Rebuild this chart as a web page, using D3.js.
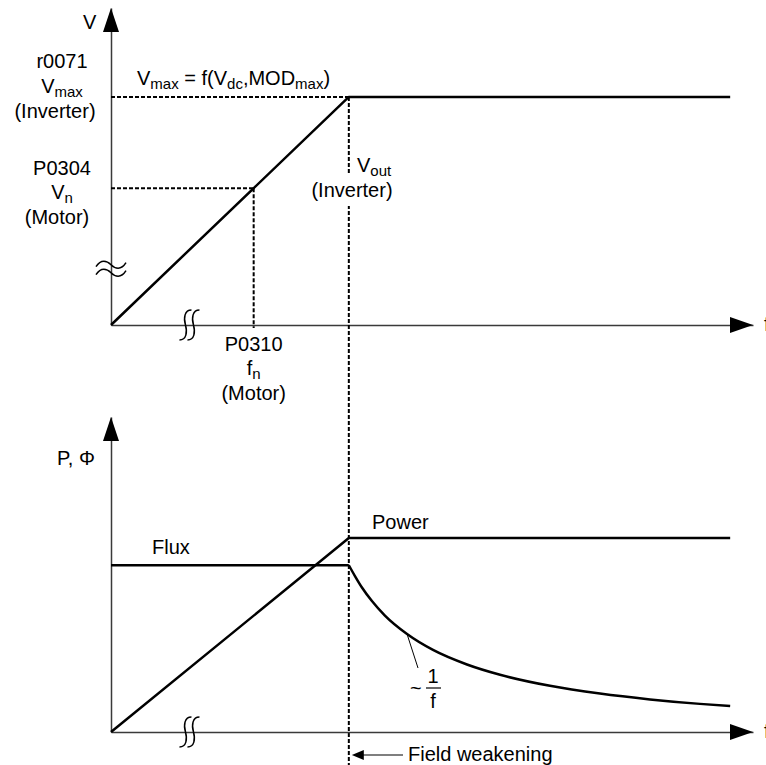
<!DOCTYPE html>
<html>
<head>
<meta charset="utf-8">
<script src="https://cdn.jsdelivr.net/npm/d3@7"></script>
<style>
	body { margin: 0; background: #fff; }
	svg { display: block; font-family: "Liberation Sans", Arial, sans-serif; }
</style>
</head>
<body>
<svg id="chart" width="766" height="765"></svg>
<script>

// frequency axis: nominal motor frequency = 1
const freqDomain = [0, 4.5],
	nominalFreq = 1,
	fieldWeakeningFreq = 1.667,
	breakFreq = 0.55;

// upper panel: V (Vmax = 1)
const voltageDomain = [0, 1.39],
	nominalVoltage = 0.6,
	maxVoltage = 1,
	voltageBreak = 0.26;
const voltageFreqs = [0, 1.667, 4.34];
const voltageValues = [0, 1, 1];

// lower panel: P, flux (rated power = 1)
const powerDomain = [0, 1.624];
const powerFreqs = [0, 1.667, 4.34];
const powerValues = [0, 1, 1];
const fluxFlatFreqs = [0, 1.667];
const fluxFlatValues = [0.86, 0.86];
const fluxWeakFreqs = [1.667, 1.71, 1.759, 1.829, 1.92, 2.075, 2.257, 2.495, 2.727, 3.077, 3.427, 3.778, 4.128, 4.34];
const fluxWeakValues = [0.86, 0.804, 0.745, 0.675, 0.6, 0.505, 0.423, 0.348, 0.295, 0.238, 0.198, 0.168, 0.145, 0.134];

const AXIS_COLOR = '#3a3a3a',
	LINE_WIDTH = 2.5,
	DASH = '4,2';

let svg = d3.select('#chart');

let x = d3.scaleLinear().domain(freqDomain).range([111, 753]),
	yV = d3.scaleLinear().domain(voltageDomain).range([325, 8]),
	yP = d3.scaleLinear().domain(powerDomain).range([732, 417]);

// text with optional subscripts: parts = ['V', {sub: 'max'}, ...]
function label(sel, px, py, parts, anchor) {
	let t = sel.append('text')
		.attr('x', px)
		.attr('y', py)
		.attr('text-anchor', anchor || 'start')
		.attr('font-size', 20)
		.attr('fill', '#000');
	let shifted = false;
	parts.forEach(p => {
		if (typeof p === 'string') {
			t.append('tspan').attr('dy', shifted ? -4 : 0).text(p);
			shifted = false;
		} else {
			t.append('tspan').attr('dy', shifted ? 0 : 4).attr('font-size', 15).text(p.sub);
			shifted = true;
		}
	});
	return t;
}

function drawAxes(y) {
	let ox = x(0), oy = y(0);
	svg.append('g')
		.attr('transform', 'translate(0,' + oy + ')')
		.call(d3.axisBottom(x).tickValues([]).tickSizeOuter(0))
		.select('.domain').attr('stroke', AXIS_COLOR).attr('stroke-width', 1.5);
	svg.append('g')
		.attr('transform', 'translate(' + ox + ',0)')
		.call(d3.axisLeft(y).tickValues([]).tickSizeOuter(0))
		.select('.domain').attr('stroke', AXIS_COLOR).attr('stroke-width', 1.5);

	// arrow heads
	let top = y.range()[1], right = x.range()[1];
	svg.append('path')
		.attr('d', 'M' + ox + ',' + top + 'L' + (ox + 8) + ',' + (top + 24) + 'L' + (ox - 8) + ',' + (top + 24) + 'Z')
		.attr('fill', '#000');
	svg.append('path')
		.attr('d', 'M' + right + ',' + oy + 'L' + (right - 23) + ',' + (oy - 8) + 'L' + (right - 23) + ',' + (oy + 8) + 'Z')
		.attr('fill', '#000');
	// axis label cut off at the right edge, as in the original
	svg.append('text').attr('x', 764).attr('y', oy + 6).attr('font-size', 20).text('f');

	// frequency axis break
	let bx = x(breakFreq);
	[-4, 4].forEach(dx => {
		let cx = bx + dx;
		svg.append('path')
			.attr('d', 'M' + (cx + 6) + ',' + (oy - 15) + 'C' + (cx - 1) + ',' + (oy - 15) + ' ' + (cx - 2) + ',' + (oy - 7) + ' ' + cx + ',' + oy
				+ 'C' + (cx + 2) + ',' + (oy + 7) + ' ' + (cx + 1) + ',' + (oy + 15) + ' ' + (cx - 6) + ',' + (oy + 15))
			.attr('fill', 'none')
			.attr('stroke', '#000')
			.attr('stroke-width', 1.5);
	});
}

function drawPath(xs, ys, y, curve) {
	let gen = d3.line().x(i => x(xs[i])).y(i => y(ys[i]));
	if (curve) { gen.curve(curve); }
	return svg.append('path')
		.attr('d', gen(d3.range(xs.length)))
		.attr('fill', 'none')
		.attr('stroke', '#000')
		.attr('stroke-width', LINE_WIDTH)
		.attr('stroke-linejoin', 'round');
}

function dashed(x1, y1, x2, y2) {
	return svg.append('line')
		.attr('x1', x1).attr('y1', y1).attr('x2', x2).attr('y2', y2)
		.attr('stroke', '#000')
		.attr('stroke-width', 2)
		.attr('stroke-dasharray', DASH);
}

// ---------- upper panel ----------

drawAxes(yV);

// voltage axis break
let by = yV(voltageBreak);
[-1, 7].forEach(dy => {
	let yy = by + dy;
	svg.append('path')
		.attr('d', 'M' + (x(0) - 15) + ',' + (yy + 2) + 'C' + (x(0) - 10) + ',' + (yy - 6) + ' ' + (x(0) - 4) + ',' + (yy - 4) + ' ' + x(0) + ',' + yy
			+ 'C' + (x(0) + 4) + ',' + (yy + 4) + ' ' + (x(0) + 10) + ',' + (yy + 6) + ' ' + (x(0) + 15) + ',' + (yy - 2))
		.attr('fill', 'none')
		.attr('stroke', '#000')
		.attr('stroke-width', 1.5);
});

dashed(x(0), yV(maxVoltage), x(fieldWeakeningFreq), yV(maxVoltage));
dashed(x(0), yV(nominalVoltage), x(nominalFreq), yV(nominalVoltage));
dashed(x(nominalFreq), yV(nominalVoltage), x(nominalFreq), yV(0) + 3);
dashed(x(fieldWeakeningFreq), yV(maxVoltage), x(fieldWeakeningFreq), 765);

// white box so the dashed line breaks behind "(Inverter)"
svg.append('rect').attr('x', 312).attr('y', 175).attr('width', 80).attr('height', 31).attr('fill', '#fff');

drawPath(voltageFreqs, voltageValues, yV);

label(svg, 83, 29, ['V']);
label(svg, 62, 68, ['r0071'], 'middle');
label(svg, 62, 93, ['V', {sub: 'max'}], 'middle');
label(svg, 55, 118, ['(Inverter)'], 'middle');
label(svg, 62, 175, ['P0304'], 'middle');
label(svg, 62, 199, ['V', {sub: 'n'}], 'middle');
label(svg, 57, 224, ['(Motor)'], 'middle');
label(svg, 137, 85, ['V', {sub: 'max'}, ' = f(V', {sub: 'dc'}, ',MOD', {sub: 'max'}, ')']);
label(svg, 357, 172, ['V', {sub: 'out'}]);
label(svg, 352, 197, ['(Inverter)'], 'middle');
label(svg, x(nominalFreq), 351, ['P0310'], 'middle');
label(svg, x(nominalFreq), 375, ['f', {sub: 'n'}], 'middle');
label(svg, x(nominalFreq), 400, ['(Motor)'], 'middle');

// ---------- lower panel ----------

drawAxes(yP);

drawPath(powerFreqs, powerValues, yP);
drawPath(fluxFlatFreqs, fluxFlatValues, yP);
drawPath(fluxWeakFreqs, fluxWeakValues, yP, d3.curveMonotoneX);

label(svg, 57, 465, ['P, \u03A6']);
label(svg, 152, 554, ['Flux']);
label(svg, 372, 529, ['Power']);

// ~1/f annotation
svg.append('line')
	.attr('x1', x(fluxWeakFreqs[5])).attr('y1', yP(fluxWeakValues[5]))
	.attr('x2', 418).attr('y2', 668)
	.attr('stroke', '#000').attr('stroke-width', 1);
label(svg, 410, 695, ['~']);
label(svg, 433, 683, ['1'], 'middle');
svg.append('line')
	.attr('x1', 426).attr('y1', 688).attr('x2', 441).attr('y2', 688)
	.attr('stroke', '#000').attr('stroke-width', 1.2);
label(svg, 433, 708, ['f'], 'middle');

// field weakening arrow
let fwx = x(fieldWeakeningFreq);
svg.append('line')
	.attr('x1', fwx + 12).attr('y1', 755).attr('x2', 403).attr('y2', 755)
	.attr('stroke', '#000').attr('stroke-width', 1.2);
svg.append('path')
	.attr('d', 'M' + (fwx + 3) + ',755L' + (fwx + 15) + ',750L' + (fwx + 15) + ',760Z')
	.attr('fill', '#000');
label(svg, 408, 761, ['Field weakening']);

</script>
</body>
</html>
